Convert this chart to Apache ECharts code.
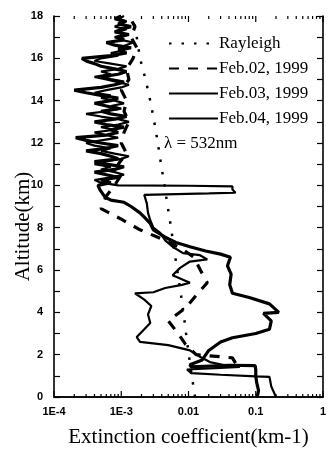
<!DOCTYPE html>
<html>
<head>
<meta charset="UTF-8">
<title>Extinction profiles</title>
<script src="https://cdn.jsdelivr.net/npm/echarts@6/dist/echarts.min.js"></script>
<style>
html, body { margin: 0; padding: 0; background: #fff; }
#myChart { width: 331px; height: 459px; }
</style>
</head>
<body>
<div id="myChart"></div>
<script>
// [extinction (km-1), altitude (km)]
var rayleigh = [[0.0125,0],[0.0112,1],[0.0101,2],[0.0092,3],[0.0084,4],[0.0076,5],[0.0068,6],
    [0.0061,7],[0.0055,8],[0.0049,9],[0.0044,10],[0.0039,11],[0.0035,12],[0.0031,13],
    [0.0027,14],[0.0023,15],[0.0019,16],[0.0017,17],[0.0015,18]];

var feb02 = [[0.05,1.6],[0.045,1.85],[0.013,2.0],[0.009,2.5],[0.007,3.0],[0.005,3.6],[0.009,4.2],
    [0.013,4.8],[0.019,5.4],[0.015,6.0],[0.012,6.6],[0.008,7.0],[0.0045,7.4],[0.0019,7.9],
    [0.001,8.4],[0.0005,8.9],[0.0006,9.5],[0.0008,10.0],[0.001,10.5],[0.0009,11.0],[0.0012,11.5],
    [0.001,12.0],[0.0011,12.5],[0.0013,13.0],[0.0011,13.5],[0.0012,14.0],[0.001,14.5],
    [0.0013,15.0],[0.0012,15.5],[0.0015,16.0],[0.0017,16.5],[0.0014,17.0],[0.0016,17.5],[0.0013,18.0]];

var feb03 = [[0.105,0],[0.11,0.3],[0.103,0.7],[0.1,1.0],[0.1,1.3],[0.098,1.48],[0.04,1.5],
    [0.011,1.42],[0.0105,1.52],[0.016,1.75],[0.02,2.2],[0.03,2.6],[0.045,2.8],[0.1,3.0],
    [0.16,3.2],[0.17,3.6],[0.13,3.95],[0.22,4.0],[0.16,4.4],[0.08,4.7],[0.045,4.9],[0.041,5.3],
    [0.043,5.8],[0.038,6.2],[0.042,6.6],[0.03,6.75],[0.018,6.9],[0.0105,7.1],[0.0065,7.3],
    [0.0045,7.55],[0.003,7.9],[0.0027,8.2],[0.0022,8.5],[0.0019,8.7],[0.0014,9.0],[0.0011,9.2],
    [0.0007,9.3],[0.00057,9.45],[0.00048,9.8],
    [0.00045,10.0],[0.0007,10.125],[0.0005,10.25],[0.0009,10.375],[0.0006,10.5],[0.0004,10.625],
    [0.0008,10.75],[0.0011,10.875],[0.0006,11.0],[0.0004,11.125],[0.0009,11.25],[0.0007,11.375],
    [0.0005,11.5],[0.0003,11.625],[0.0006,11.75],[0.0009,11.875],[0.0005,12.0],[0.0003,12.125],
    [0.00021,12.25],[0.0006,12.375],[0.0009,12.5],[0.0007,12.625],[0.0011,12.75],[0.0006,12.875],
    [0.0004,13.0],[0.0008,13.125],[0.0012,13.25],[0.0007,13.375],[0.0005,13.5],[0.0009,13.625],
    [0.0006,13.75],[0.0004,13.875],[0.0007,14.0],[0.0009,14.125],[0.0005,14.25],[0.0003,14.375],
    [0.0002,14.5],[0.0005,14.625],[0.0008,14.75],[0.0011,14.875],[0.0007,15.0],[0.0005,15.125],
    [0.0009,15.25],[0.0012,15.375],[0.0008,15.5],[0.0005,15.625],[0.0004,15.75],[0.0003,15.875],
    [0.00026,16.0],[0.0007,16.125],[0.0012,16.25],[0.0009,16.375],[0.0014,16.5],[0.0008,16.625],
    [0.0006,16.75],[0.0011,16.875],[0.0009,17.0],[0.0013,17.125],[0.0008,17.25],[0.001,17.375],
    [0.0014,17.5],[0.0009,17.625],[0.0011,17.75],[0.0008,17.875],[0.001,18.0]];

var feb04 = [[0.2,0],[0.17,0.5],[0.16,0.95],[0.1,0.97],[0.03,1.05],[0.011,1.13],[0.0095,1.3],
    [0.03,1.38],[0.058,1.42],[0.035,1.5],[0.0208,1.65],[0.0148,1.9],[0.0105,2.2],[0.005,2.45],
    [0.0019,2.6],[0.0017,2.83],[0.0022,3.2],[0.0027,3.5],[0.0025,3.9],[0.0028,4.3],[0.0022,4.6],
    [0.0016,4.9],[0.003,4.95],[0.0045,5.15],[0.008,5.3],[0.0105,5.4],[0.0075,5.6],[0.0058,5.75],
    [0.0075,6.1],[0.0105,6.4],[0.019,6.5],[0.0148,6.7],[0.0083,6.8],[0.0058,7.1],[0.0045,7.4],
    [0.0038,7.75],[0.003,8.0],[0.0027,8.35],[0.0025,8.7],[0.0024,9.15],[0.0022,9.55],[0.02,9.62],
    [0.05,9.65],[0.045,9.8],[0.045,9.95],[0.01,9.98],[0.0009,10.0],
    [0.0005,10.125],[0.0004,10.25],[0.0007,10.375],[0.0011,10.5],[0.0008,10.625],[0.0005,10.75],
    [0.0007,10.875],[0.0004,11.0],[0.0006,11.125],[0.001,11.25],[0.0013,11.375],[0.0008,11.5],
    [0.0005,11.625],[0.0007,11.75],[0.0004,11.875],[0.0003,12.0],[0.0005,12.125],[0.0009,12.25],
    [0.0006,12.375],[0.0004,12.5],[0.0008,12.625],[0.0005,12.75],[0.0009,12.875],[0.0013,13.0],
    [0.0009,13.125],[0.0005,13.25],[0.0003,13.375],[0.0006,13.5],[0.001,13.625],[0.0007,13.75],
    [0.0011,13.875],[0.0008,14.0],[0.0005,14.125],[0.0007,14.25],[0.0004,14.375],[0.0006,14.5],
    [0.001,14.625],[0.0013,14.75],[0.0009,14.875],[0.0006,15.0],[0.0004,15.125],[0.0007,15.25],
    [0.0005,15.375],[0.0009,15.5],[0.0012,15.625],[0.0007,15.75],[0.0004,15.875],[0.0005,16.0],
    [0.0009,16.125],[0.0007,16.25],[0.0011,16.375],[0.0009,16.5],[0.0012,16.625],[0.0015,16.75],
    [0.001,16.875],[0.0008,17.0],[0.0011,17.125],[0.0009,17.25],[0.0012,17.375],[0.0008,17.5],
    [0.001,17.625],[0.0012,17.75],[0.0009,17.875],[0.0011,18.0]];

var seriesNames = ['Rayleigh', 'Feb.02, 1999', 'Feb.03, 1999', 'Feb.04, 1999'];
var xMajor = [0.0001, 0.001, 0.01, 0.1, 1];
var xTickLabels = ['1E-4', '1E-3', '0.01', '0.1', '1'];
var xMinor = [];
for (var d = 0; d < 4; d++) {
    for (var k = 2; k <= 9; k++) xMinor.push(k * xMajor[d]);
}

var serif = 'Liberation Serif';
var tickFont = { fontFamily: 'Liberation Sans', fontWeight: 'bold', fontSize: 11, color: '#000' };
var axisLine = { show: true, lineStyle: { color: '#000', width: 1.6 } };

function xAx(pos, labels) {
    return {
        type: 'log', logBase: 10, min: 0.0001, max: 1, position: pos,
        axisLine: axisLine,
        splitLine: { show: false },
        axisTick: { show: false },
        axisLabel: labels ? {
            show: true, margin: 9,
            formatter: function (v) {
                for (var i = 0; i < xMajor.length; i++) {
                    if (Math.abs(Math.log10(v) - Math.log10(xMajor[i])) < 1e-6) return xTickLabels[i];
                }
                return '';
            },
            fontFamily: tickFont.fontFamily, fontWeight: tickFont.fontWeight,
            fontSize: tickFont.fontSize, color: tickFont.color
        } : { show: false }
    };
}
var xAxes = [xAx('bottom', true), xAx('top', false)];
xAxes[0].name = 'Extinction coefficient(km-1)';
xAxes[0].nameLocation = 'middle';
xAxes[0].nameGap = 30;
xAxes[0].nameMoveOverlap = false;
xAxes[0].nameTextStyle = { fontFamily: serif, fontSize: 21, color: '#000' };

function yAx(pos, labels) {
    return {
        type: 'value', min: 0, max: 18, interval: 2, position: pos,
        axisLine: axisLine,
        splitLine: { show: false },
        axisTick: { show: true, inside: true, length: 6, lineStyle: { color: '#000', width: 1.2 } },
        minorTick: { show: true, splitNumber: 2, length: 6, lineStyle: { color: '#000', width: 1.2 } },
        axisLabel: labels ? { show: true, margin: 11,
            fontFamily: tickFont.fontFamily, fontWeight: tickFont.fontWeight,
            fontSize: tickFont.fontSize, color: tickFont.color } : { show: false }
    };
}
var yAxes = [yAx('left', true), yAx('right', false)];
yAxes[0].name = 'Altitude(km)';
yAxes[0].nameLocation = 'middle';
yAxes[0].nameGap = 20;
yAxes[0].nameMoveOverlap = false;
yAxes[0].nameTextStyle = { fontFamily: serif, fontSize: 21, color: '#000', padding: [0, 40, 0, 0] };

// tick marks of the log axis, bottom and top, placed through the axis scale
var xTicks = xMajor.map(function (v) { return [v, 1]; }).concat(xMinor.map(function (v) { return [v, 0]; }));

function line(name, data, style) {
    return {
        name: name, type: 'line', data: data, xAxisIndex: 0, yAxisIndex: 0,
        symbol: 'none', smooth: false, animation: false,
        lineStyle: style, itemStyle: { color: '#000' }
    };
}

var chart_myChart = echarts.init(document.getElementById('myChart'), null, { renderer: 'canvas' });
var option = {
    backgroundColor: '#fff',
    animation: false,
    grid: { left: 54, right: 8, top: 16, bottom: 62, containLabel: false },
    legend: {
        data: seriesNames, orient: 'vertical', left: 163, top: 30,
        itemWidth: 49, itemHeight: 14, itemGap: 8, itemStyle: { opacity: 0 },
        selectedMode: false,
        textStyle: { fontFamily: serif, fontSize: 17, color: '#000', padding: [0, 0, 0, -4] }
    },
    graphic: [{
        type: 'text', left: 164, top: 135,
        style: { text: '\u03bb = 532nm', font: '17px "Liberation Serif"', fill: '#000' }
    }],
    xAxis: xAxes,
    yAxis: yAxes,
    series: [
        line(seriesNames[0], rayleigh, { color: '#000', width: 2.5, type: [2.5, 10] }),
        line(seriesNames[1], feb02, { color: '#000', width: 3.2, type: [10, 9] }),
        line(seriesNames[2], feb03, { color: '#000', width: 3.2 }),
        line(seriesNames[3], feb04, { color: '#000', width: 2.2 }),
        {
            type: 'custom', data: xTicks, xAxisIndex: 0, yAxisIndex: 0, clip: false,
            silent: true, animation: false,
            renderItem: function (params, api) {
                var len = api.value(1) ? 6 : 3;
                var b = api.coord([api.value(0), 0]);
                var t = api.coord([api.value(0), 18]);
                var st = { stroke: '#000', lineWidth: 1.2 };
                return { type: 'group', children: [
                    { type: 'line', shape: { x1: b[0], y1: b[1], x2: b[0], y2: b[1] - len }, style: st },
                    { type: 'line', shape: { x1: t[0], y1: t[1], x2: t[0], y2: t[1] + len }, style: st }
                ] };
            }
        }
    ]
};
chart_myChart.setOption(option);
</script>
</body>
</html>
